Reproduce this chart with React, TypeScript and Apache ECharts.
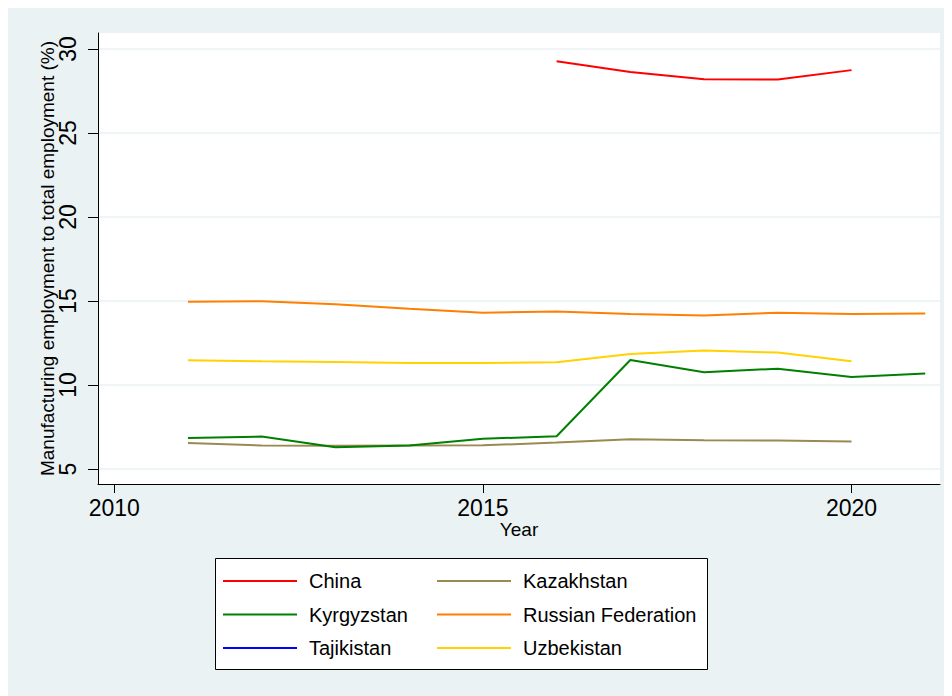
import React, { useEffect, useRef } from "react";
import * as echarts from "echarts";

const years = [2011, 2012, 2013, 2014, 2015, 2016, 2017, 2018, 2019, 2020, 2021];
const china = [null, null, null, null, null, 29.27, 28.63, 28.2, 28.18, 28.74, null];
const kazakhstan = [6.54, 6.4, 6.38, 6.4, 6.41, 6.57, 6.77, 6.71, 6.69, 6.63, null];
const kyrgyzstan = [6.84, 6.93, 6.3, 6.4, 6.8, 6.95, 11.49, 10.76, 10.97, 10.48, 10.69];
const russia = [14.95, 14.98, 14.8, 14.54, 14.3, 14.37, 14.23, 14.13, 14.3, 14.23, 14.25];
const tajikistan = [null, null, null, null, null, null, null, null, null, null, null];
const uzbekistan = [11.47, 11.41, 11.37, 11.31, 11.31, 11.35, 11.85, 12.05, 11.93, 11.41, null];

const xTicks = [2010, 2015, 2020];
const yTicks = [5, 10, 15, 20, 25, 30];

const FONT = "'Liberation Sans', Arial, Helvetica, sans-serif";

type S = { name: string; values: (number | null)[]; color: string };
const seriesDefs: S[] = [
  { name: "China", values: china, color: "#FF0000" },
  { name: "Kazakhstan", values: kazakhstan, color: "#9A8A52" },
  { name: "Kyrgyzstan", values: kyrgyzstan, color: "#008000" },
  { name: "Russian Federation", values: russia, color: "#FF7F00" },
  { name: "Tajikistan", values: tajikistan, color: "#0000FF" },
  { name: "Uzbekistan", values: uzbekistan, color: "#FFD200" },
];

export default function App() {
  const ref = useRef<HTMLDivElement>(null);
  useEffect(() => {
    document.documentElement.style.overflow = "hidden";
    document.body.style.overflow = "hidden";
    const chart = echarts.init(ref.current!, null, { renderer: "svg" });
    const legendText = {
      fontSize: 20,
      fontFamily: FONT,
      color: "#000",
      lineHeight: 20,
      padding: [0, 0, 0, 7],
    };
    const legendBase = {
      orient: "vertical",
      top: 563,
      padding: 0,
      icon: "rect",
      itemWidth: 74,
      itemHeight: 2,
      itemGap: 13.5,
      textStyle: legendText,
      selectedMode: false,
    };
    chart.setOption({
      animation: false,
      backgroundColor: "#EAF2F3",
      textStyle: { fontFamily: FONT },
      grid: {
        left: 90,
        top: 25,
        right: 12,
        bottom: 212,
        show: true,
        backgroundColor: "#FFFFFF",
        borderWidth: 0,
        containLabel: false,
      },
      xAxis: {
        type: "value",
        min: 2009.78,
        max: 2021.2,
        name: "Year",
        nameLocation: "middle",
        nameGap: 36,
        nameMoveOverlap: false,
        nameTextStyle: { fontSize: 19, color: "#000", fontFamily: FONT },
        axisLine: { show: true, lineStyle: { color: "#000", width: 1 } },
        axisTick: { show: true, length: 9, customValues: xTicks, lineStyle: { color: "#000" } },
        axisLabel: {
          customValues: xTicks,
          fontSize: 23,
          color: "#000",
          margin: 12,
          fontFamily: FONT,
          formatter: (v: number) => String(Math.round(v)),
        },
        splitLine: { show: false },
      },
      yAxis: {
        type: "value",
        min: 4.107,
        max: 30.95,
        name: "Manufacturing employment to total employment (%)",
        nameLocation: "middle",
        nameGap: 41,
        nameMoveOverlap: false,
        nameTextStyle: { fontSize: 19, color: "#000", fontFamily: FONT },
        axisLine: { show: true, lineStyle: { color: "#000", width: 1 } },
        axisTick: { show: true, length: 10, customValues: yTicks, lineStyle: { color: "#000" } },
        axisLabel: {
          customValues: yTicks,
          fontSize: 23,
          color: "#000",
          rotate: 90,
          margin: 19,
          fontFamily: FONT,
          formatter: (v: number) => String(Math.round(v)),
        },
        splitLine: { show: true, lineStyle: { color: "#EAF2F3", width: 1.5 } },
      },
      legend: [
        { ...legendBase, left: 223 - 8, data: ["China", "Kyrgyzstan", "Tajikistan"] },
        { ...legendBase, left: 437 - 8, data: ["Kazakhstan", "Russian Federation", "Uzbekistan"] },
      ],
      graphic: [
        {
          type: "rect",
          left: 207,
          top: 550,
          z: -1,
          shape: { width: 492, height: 111 },
          style: { fill: "#FFFFFF", stroke: "#000", lineWidth: 1 },
        },
      ],
      series: seriesDefs.map((s) => ({
        name: s.name,
        type: "line",
        showSymbol: false,
        symbol: "none",
        color: s.color,
        lineStyle: { color: s.color, width: 2 },
        itemStyle: { color: s.color },
        data: years
          .map((y, i) => [y, s.values[i]])
          .filter((p) => p[1] !== null),
      })),
    });
    return () => chart.dispose();
  }, []);
  return <div ref={ref} style={{ width: 944, height: 688 }} />;
}
